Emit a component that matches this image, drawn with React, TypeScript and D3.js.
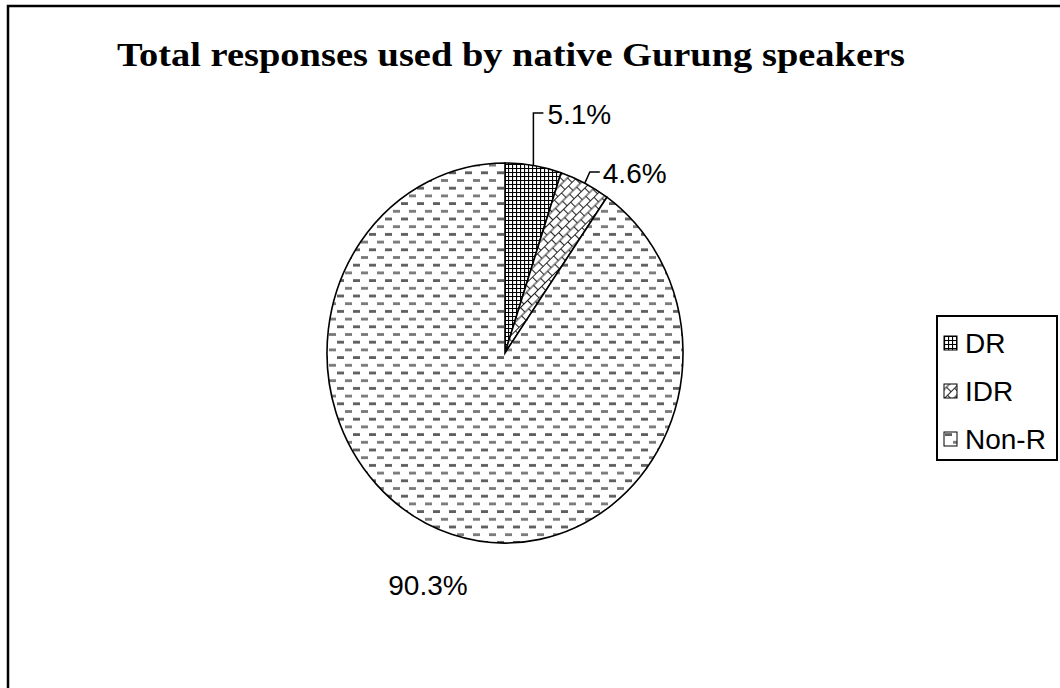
import React from "react";
import * as d3 from "d3";

const categories = ["DR", "IDR", "Non-R"];
const shares = [5.1, 4.6, 90.3];
const labels = ["5.1%", "4.6%", "90.3%"];
const patternIds = ["pat-dr", "pat-idr", "pat-nonr"];

const W = 1060;
const H = 688;
const cx = 505;
const cy = 353;
const rx = 178;
const ry = 190;

function pt(a: number, sx = rx, sy = ry): [number, number] {
  return [cx + sx * Math.sin(a), cy - sy * Math.cos(a)];
}

function slicePath(a0: number, a1: number): string {
  const [x0, y0] = pt(a0);
  const [x1, y1] = pt(a1);
  const large = a1 - a0 > Math.PI ? 1 : 0;
  return `M${cx},${cy}L${x0},${y0}A${rx},${ry} 0 ${large} 1 ${x1},${y1}Z`;
}

export default function App() {
  const pie = d3.pie<number>().sort(null).value((d) => d);
  const arcs = pie(shares);
  const mids = arcs.map((a) => (a.startAngle + a.endAngle) / 2);
  const p0 = pt(mids[0]);
  const p1 = pt(mids[1]);

  const legendY = [343, 391, 439];

  return (
    <svg
      width={W}
      height={H}
      style={{ position: "absolute", left: 0, top: 0, background: "#fff" }}
    >
      <defs>
        <filter id="soft" x="-10%" y="-10%" width="120%" height="120%">
          <feGaussianBlur stdDeviation="0.5" />
        </filter>
        <pattern id="pat-dr" patternUnits="userSpaceOnUse" width={4} height={4}>
          <rect width={4} height={4} fill="#fff" />
          <path d="M0,0.5H4M0.5,0V4" stroke="#000" strokeWidth={1.2} />
        </pattern>
        <pattern
          id="pat-idr"
          patternUnits="userSpaceOnUse"
          width={10}
          height={13}
          patternTransform="rotate(-45)"
        >
          <rect width={10} height={13} fill="#fff" />
          <path
            d="M0,0.5H10M0,7H10M0.5,0V7M5.5,7V13"
            stroke="#222"
            strokeWidth={1.1}
          />
        </pattern>
        <pattern id="pat-nonr" patternUnits="userSpaceOnUse" width={16} height={15.4}>
          <rect width={16} height={15.4} fill="#fff" />
          <rect x={1} y={2} width={7} height={2.8} fill="#5e5e5e" />
          <rect x={9} y={9.7} width={7} height={2.8} fill="#7a7a7a" />
        </pattern>
      </defs>

      {/* outer chart frame */}
      <path d={`M8,${H + 5}V6H${W + 5}`} fill="none" stroke="#000" strokeWidth={2.5} />

      <text
        x={511}
        y={66}
        textAnchor="middle"
        fontFamily="'Liberation Serif', 'Times New Roman', serif"
        fontWeight="bold"
        fontSize={34}
        textLength={788}
        lengthAdjust="spacingAndGlyphs"
      >
        Total responses used by native Gurung speakers
      </text>

      {arcs.map((a, i) => (
        <path
          key={categories[i]}
          d={slicePath(a.startAngle, a.endAngle)}
          fill={`url(#${patternIds[i]})`}
          stroke="#000"
          strokeWidth={1.6}
        />
      ))}

      {/* leader lines */}
      <path
        d={`M${p0[0]},${p0[1]}L${p0[0]},113H${p0[0] + 10}`}
        fill="none"
        stroke="#000"
        strokeWidth={1.5}
      />
      <path
        d={`M${p1[0]},${p1[1]}L${p1[0] + 5},172H${p1[0] + 15}`}
        fill="none"
        stroke="#000"
        strokeWidth={1.5}
      />

      <g fontFamily="'Liberation Sans', Arial, sans-serif" fontSize={28} fill="#000">
        <text x={p0[0] + 14} y={124}>{labels[0]}</text>
        <text x={p1[0] + 18} y={183}>{labels[1]}</text>
        <text x={428} y={595} textAnchor="middle">{labels[2]}</text>
      </g>

      {/* legend */}
      <rect x={937} y={316} width={120} height={144} fill="#fff" stroke="#000" strokeWidth={2} />
      {categories.map((c, i) => (
        <g key={c}>
          <rect
            x={944}
            y={legendY[i] - 7}
            width={13}
            height={14}
            fill={`url(#${patternIds[i]})`}
            stroke="#000"
            strokeWidth={1}
          />
          <text
            x={965}
            y={legendY[i] + 10}
            fontFamily="'Liberation Sans', Arial, sans-serif"
            fontSize={28}
          >
            {c}
          </text>
        </g>
      ))}
    </svg>
  );
}
